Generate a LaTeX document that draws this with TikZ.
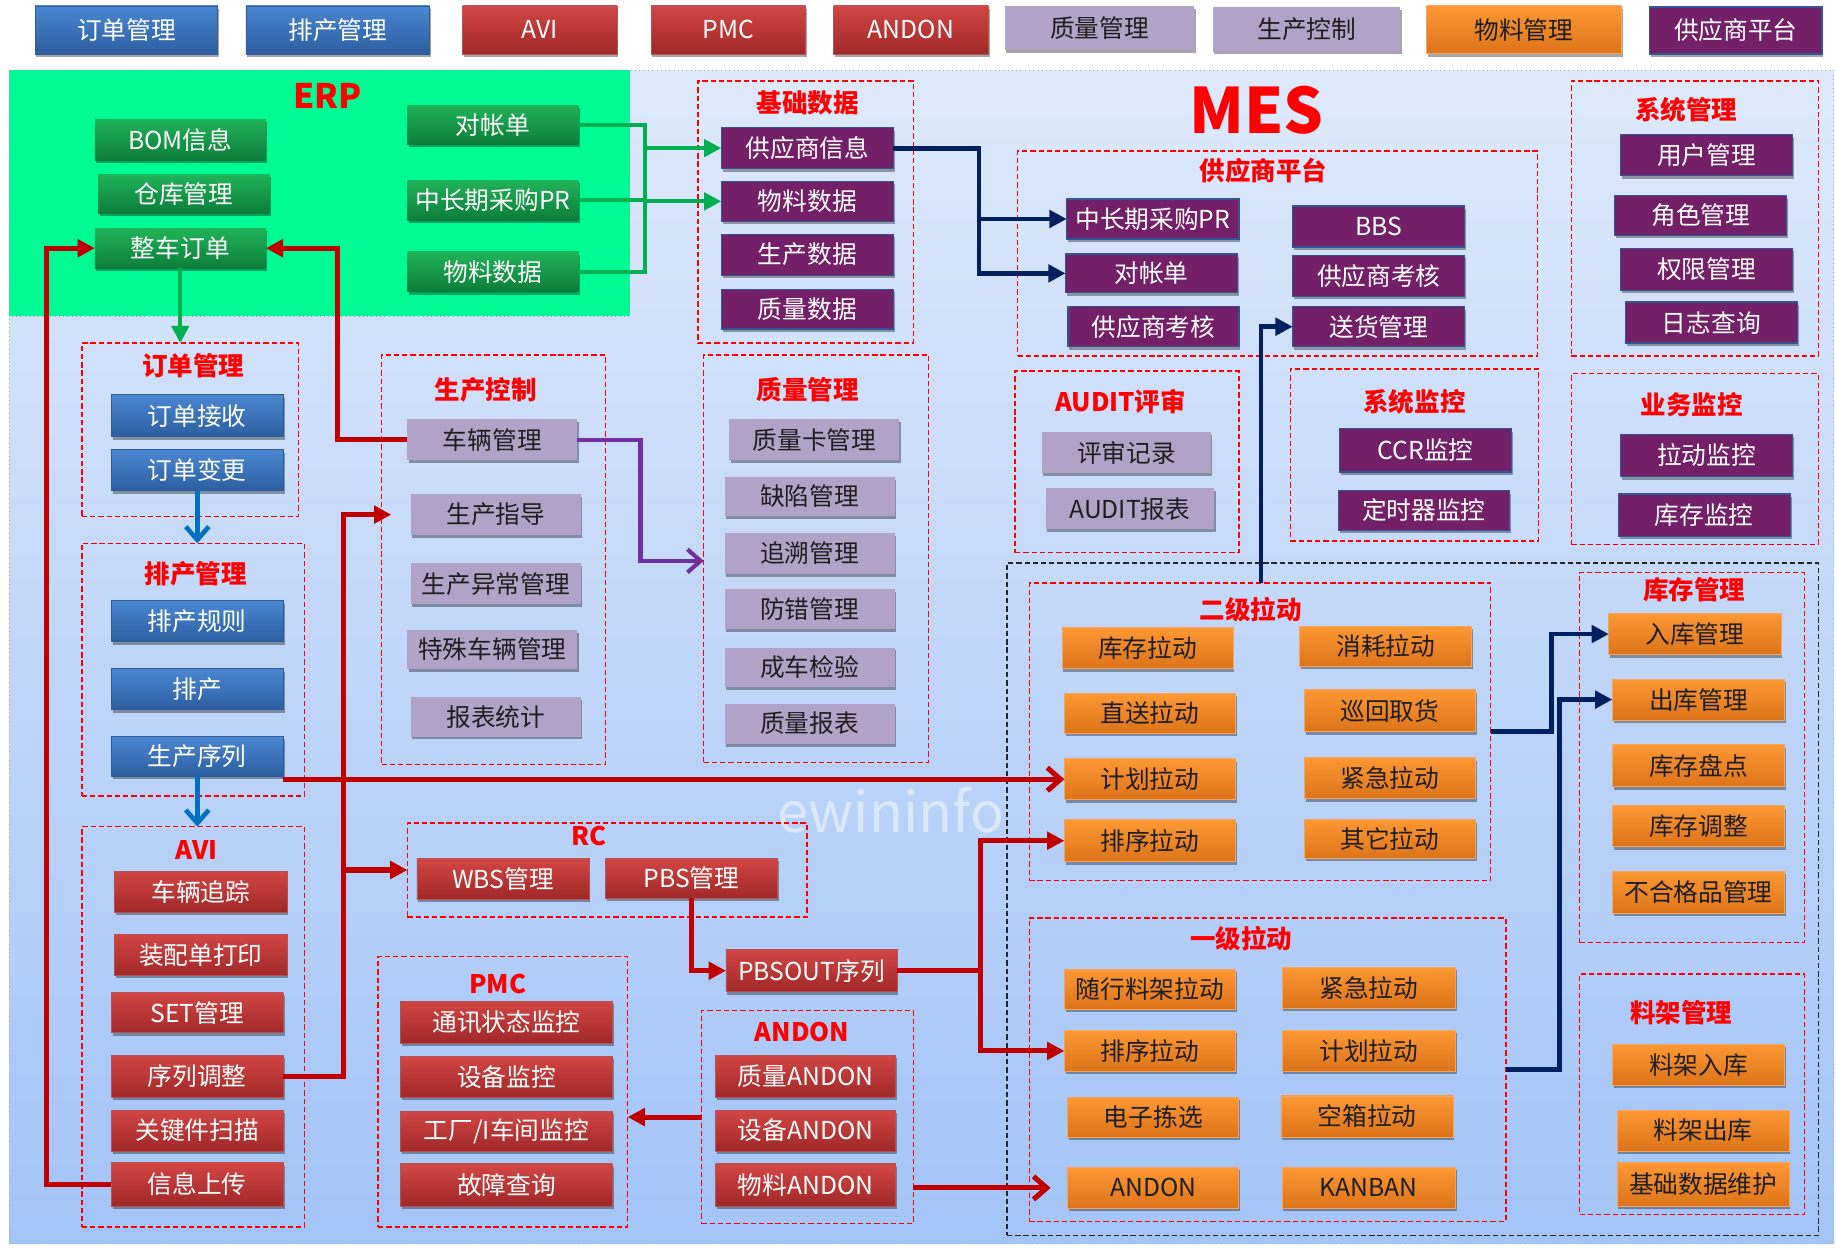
\documentclass[tikz,border=0pt]{standalone}
\usepackage{fontspec}
\setmainfont{Noto Sans CJK SC}
\usetikzlibrary{arrows.meta,shadows}
\definecolor{bgtop}{RGB}{222,233,251}
\definecolor{bgbot}{RGB}{163,196,247}
\definecolor{erpgreen}{RGB}{0,250,148}
\definecolor{bluetop}{RGB}{74,135,210}
\definecolor{bluebot}{RGB}{44,94,160}
\definecolor{blueedge}{RGB}{50,90,150}
\definecolor{redtop}{RGB}{210,70,68}
\definecolor{redbot}{RGB}{160,40,40}
\definecolor{lav}{RGB}{179,162,199}
\definecolor{purp}{RGB}{116,32,104}
\definecolor{puredge}{RGB}{50,85,150}
\definecolor{grtop}{RGB}{32,179,88}
\definecolor{grbot}{RGB}{12,125,58}
\definecolor{ortop}{RGB}{253,152,52}
\definecolor{orbot}{RGB}{220,115,25}
\definecolor{oredge}{RGB}{245,165,95}
\definecolor{lnred}{RGB}{192,0,0}
\definecolor{lnnavy}{RGB}{0,32,96}
\definecolor{lngreen}{RGB}{0,176,80}
\definecolor{lnpurple}{RGB}{112,48,160}
\definecolor{lnblue}{RGB}{0,112,192}
\definecolor{darktxt}{RGB}{30,30,30}
\newcommand\mkbox[7]{\node[#6, minimum width={(#4-#2)*0.025cm}, minimum height={(#5-#3)*0.025cm}] (#1) at ({(#2+#4)/2},{(#3+#5)/2}) {#7};}
\begin{document}
\begin{tikzpicture}[x=0.025cm,y=-0.025cm,
  bxbase/.style={inner sep=0pt, outer sep=0pt, font=\fontsize{15}{16}\selectfont,
    drop shadow={shadow xshift=0.8pt, shadow yshift=-1.8pt, opacity=0.35, fill=black}},
  bluebx/.style={bxbase, top color=bluetop, bottom color=bluebot, draw=blueedge, line width=0.4pt, text=white},
  redbx/.style={bxbase, top color=redtop, bottom color=redbot, draw=redbot!80!white, line width=0.4pt, text=white},
  lavbx/.style={bxbase, fill=lav, text=darktxt},
  purbx/.style={bxbase, fill=purp, draw=puredge, line width=0.8pt, text=white},
  grbx/.style={bxbase, top color=grtop, bottom color=grbot, text=white},
  orbx/.style={bxbase, top color=ortop, bottom color=orbot, draw=oredge, line width=0.5pt, text=darktxt},
  grp/.style={draw=red, line width=0.9pt, dash pattern=on 3.2pt off 1.8pt, inner sep=0pt, outer sep=0pt},
  ttl/.style={text=red, font=\bfseries\fontsize{15.5}{17}\selectfont, inner sep=0pt},
  farrow/.style={-{Triangle[length=10.5pt,width=10.5pt]}},
  oarrow/.style={-{Straight Barb[length=8pt,width=14pt]}},
  rdl/.style={draw=lnred, line width=3.1pt},
  nvl/.style={draw=lnnavy, line width=2.9pt},
  gnl/.style={draw=lngreen, line width=2.5pt},
  ppl/.style={draw=lnpurple, line width=2.5pt},
  bll/.style={draw=lnblue, line width=2.8pt}
]
\useasboundingbox (0,0) rectangle (1568,1065);
\fill[white] (0,0) rectangle (1568,1065);
% main background
\shade[top color=bgtop, bottom color=bgbot] (8,60) rectangle (1566,1062);
\draw[color=blueedge!50!white, line width=0.6pt, dotted] (8,60) rectangle (1566,1062);
% ERP area
\fill[erpgreen] (8,60) rectangle (538,270);
\draw[gray!70, line width=0.6pt, dotted] (8,60) rectangle (538,270);
\node[text=red, font=\bfseries\fontsize{20.5}{22}\selectfont, inner sep=0pt] (erpT) at (280,82) {ERP};
\node[text=red, font=\bfseries\fontsize{38}{40}\selectfont, inner sep=0pt] (mesT) at (1073,94) {MES};
% watermark
\node[text=white, opacity=0.5, font=\fontsize{34}{36}\selectfont, inner sep=0pt] (wm) at (761,692) {ewininfo};

% top bar
\mkbox{tb1}{30}{5}{186}{46}{bluebx}{订单管理}
\mkbox{tb2}{210}{5}{367}{46}{bluebx}{排产管理}
\mkbox{tb3}{395}{5}{527}{46}{redbx}{AVI}
\mkbox{tb4}{556}{5}{688}{46}{redbx}{PMC}
\mkbox{tb5}{712}{5}{844}{46}{redbx}{ANDON}
\mkbox{tb6}{858}{5}{1020}{43}{lavbx}{质量管理}
\mkbox{tb7}{1036}{6}{1196}{44}{lavbx}{生产控制}
\mkbox{tb8}{1218}{5}{1385}{46}{orbx}{物料管理}
\mkbox{tb9}{1409}{6}{1556}{46}{purbx}{供应商平台}

% ERP boxes
\mkbox{eBOM}{81}{102}{227}{137}{grbx}{BOM信息}
\mkbox{eCK}{84}{149}{230}{182}{grbx}{仓库管理}
\mkbox{zcdd}{81}{195}{227}{229}{grbx}{整车订单}
\mkbox{eDZ}{348}{90}{494}{123}{grbx}{对帐单}
\mkbox{ePR}{348}{154}{494}{188}{grbx}{中长期采购PR}
\mkbox{eWL}{348}{215}{494}{249}{grbx}{物料数据}

% groups
\mkbox{jcG}{596}{69}{780}{293}{grp}{}
\mkbox{gysG}{869}{129}{1313}{304}{grp}{}
\mkbox{xtG}{1342}{69}{1553}{304}{grp}{}
\mkbox{auG}{867}{317}{1058}{472}{grp}{}
\mkbox{smG}{1102}{315}{1314}{462}{grp}{}
\mkbox{ywG}{1342}{319}{1553}{465}{grp}{}
\mkbox{ddG}{70}{293}{255}{441}{grp}{}
\mkbox{pcG}{70}{464}{260}{680}{grp}{}
\mkbox{aviG}{70}{706}{260}{1048}{grp}{}
\mkbox{sckG}{326}{303}{517}{653}{grp}{}
\mkbox{zlG}{601}{303}{793}{651}{grp}{}
\mkbox{rcG}{348}{703}{689}{783}{grp}{}
\mkbox{pmcG}{323}{817}{536}{1048}{grp}{}
\mkbox{anG}{599}{863}{780}{1045}{grp}{}
\mkbox{bkG}{860}{481}{1553}{1055}{draw=black!85, line width=0.9pt, dash pattern=on 3.2pt off 1.8pt, inner sep=0pt}{}
\mkbox{g2}{879}{498}{1273}{752}{grp}{}
\mkbox{g1}{879}{784}{1286}{1043}{grp}{}
\mkbox{kcG}{1349}{489}{1541}{805}{grp}{}
\mkbox{ljG}{1349}{832}{1541}{1037}{grp}{}

% titles
\node[ttl] (t1) at (690,88) {基础数据};
\node[ttl] (t2) at (1079,146) {供应商平台};
\node[ttl] (t3) at (1440,94) {系统管理};
\node[ttl] (t4) at (957,343) {AUDIT评审};
\node[ttl] (t5) at (1208,343) {系统监控};
\node[ttl] (t6) at (1445,346) {业务监控};
\node[ttl] (t7) at (165,312) {订单管理};
\node[ttl] (t8) at (167,490) {排产管理};
\node[ttl] (t9) at (168,726) {AVI};
\node[ttl] (t10) at (415,333) {生产控制};
\node[ttl] (t11) at (690,333) {质量管理};
\node[ttl] (t12) at (503,714) {RC};
\node[ttl] (t13) at (425,840) {PMC};
\node[ttl] (t14) at (685,881) {ANDON};
\node[ttl] (t15) at (1068,521) {二级拉动};
\node[ttl] (t16) at (1060,802) {一级拉动};
\node[ttl] (t17) at (1447,504) {库存管理};
\node[ttl] (t18) at (1436,865) {料架管理};

% 基础数据
\mkbox{jSup}{616}{109}{763}{144}{purbx}{供应商信息}
\mkbox{jWL}{616}{155}{763}{189}{purbx}{物料数据}
\mkbox{jSC}{616}{200}{763}{235}{purbx}{生产数据}
\mkbox{jZL}{616}{247}{763}{281}{purbx}{质量数据}
% 供应商平台
\mkbox{pPR}{911}{170}{1058}{204}{purbx}{中长期采购PR}
\mkbox{pDZ}{910}{217}{1057}{250}{purbx}{对帐单}
\mkbox{pKH}{912}{262}{1058}{296}{purbx}{供应商考核}
\mkbox{pBBS}{1104}{176}{1251}{211}{purbx}{BBS}
\mkbox{pKH2}{1104}{218}{1251}{253}{purbx}{供应商考核}
\mkbox{pSH}{1104}{262}{1251}{296}{purbx}{送货管理}
% 系统管理
\mkbox{xt1}{1384}{115}{1531}{150}{purbx}{用户管理}
\mkbox{xt2}{1379}{167}{1526}{201}{purbx}{角色管理}
\mkbox{xt3}{1384}{212}{1531}{248}{purbx}{权限管理}
\mkbox{xt4}{1388}{258}{1535}{293}{purbx}{日志查询}
% AUDIT
\mkbox{au1}{890}{369}{1034}{404}{lavbx}{评审记录}
\mkbox{au2}{893}{417}{1037}{452}{lavbx}{AUDIT报表}
% 系统监控
\mkbox{sm1}{1144}{366}{1291}{403}{purbx}{CCR监控}
\mkbox{sm2}{1143}{419}{1289}{453}{purbx}{定时器监控}
% 业务监控
\mkbox{yw1}{1384}{371}{1531}{407}{purbx}{拉动监控}
\mkbox{yw2}{1382}{422}{1529}{458}{purbx}{库存监控}
% 订单管理
\mkbox{ddjs}{95}{337}{242}{373}{bluebx}{订单接收}
\mkbox{ddbg}{95}{384}{242}{419}{bluebx}{订单变更}
% 排产管理
\mkbox{pcgz}{95}{513}{242}{548}{bluebx}{排产规则}
\mkbox{pc}{95}{571}{242}{606}{bluebx}{排产}
\mkbox{scxl}{95}{629}{242}{663}{bluebx}{生产序列}
% AVI
\mkbox{clzz}{98}{744}{245}{779}{redbx}{车辆追踪}
\mkbox{zpd}{98}{798}{245}{833}{redbx}{装配单打印}
\mkbox{set}{95}{848}{242}{882}{redbx}{SET管理}
\mkbox{xltz}{95}{901}{242}{937}{redbx}{序列调整}
\mkbox{gjj}{95}{948}{242}{983}{redbx}{关键件扫描}
\mkbox{xxsc}{95}{993}{242}{1030}{redbx}{信息上传}
% 生产控制
\mkbox{clgl}{348}{358}{493}{393}{lavbx}{车辆管理}
\mkbox{sczd}{351}{422}{496}{457}{lavbx}{生产指导}
\mkbox{scyc}{351}{481}{496}{516}{lavbx}{生产异常管理}
\mkbox{tscl}{348}{538}{493}{571}{lavbx}{特殊车辆管理}
\mkbox{bbtj}{351}{595}{496}{629}{lavbx}{报表统计}
% 质量管理
\mkbox{zl1}{623}{358}{768}{393}{lavbx}{质量卡管理}
\mkbox{zl2}{619}{407}{764}{441}{lavbx}{缺陷管理}
\mkbox{zl3}{619}{455}{764}{490}{lavbx}{追溯管理}
\mkbox{zl4}{619}{503}{764}{537}{lavbx}{防错管理}
\mkbox{zl5}{619}{553}{764}{587}{lavbx}{成车检验}
\mkbox{zl6}{619}{601}{764}{635}{lavbx}{质量报表}
% RC
\mkbox{wbs}{356}{733}{503}{768}{redbx}{WBS管理}
\mkbox{pbs}{517}{733}{664}{767}{redbx}{PBS管理}
\mkbox{pbsout}{620}{811}{766}{847}{redbx}{PBSOUT序列}
% PMC
\mkbox{pm1}{342}{855}{523}{891}{redbx}{通讯状态监控}
\mkbox{pm2}{342}{902}{523}{937}{redbx}{设备监控}
\mkbox{pm3}{342}{949}{523}{983}{redbx}{工厂/I车间监控}
\mkbox{pm4}{342}{994}{523}{1030}{redbx}{故障查询}
% ANDON
\mkbox{an1}{611}{901}{765}{937}{redbx}{质量ANDON}
\mkbox{an2}{611}{948}{765}{983}{redbx}{设备ANDON}
\mkbox{an3}{611}{994}{765}{1030}{redbx}{物料ANDON}
% 二级拉动
\mkbox{b1}{907}{536}{1053}{571}{orbx}{库存拉动}
\mkbox{b2}{1110}{535}{1257}{569}{orbx}{消耗拉动}
\mkbox{b3}{909}{592}{1055}{626}{orbx}{直送拉动}
\mkbox{b4}{1114}{589}{1260}{625}{orbx}{巡回取货}
\mkbox{jh}{909}{648}{1055}{683}{orbx}{计划拉动}
\mkbox{b6}{1114}{647}{1260}{682}{orbx}{紧急拉动}
\mkbox{px2}{909}{700}{1055}{736}{orbx}{排序拉动}
\mkbox{b8}{1114}{700}{1260}{733}{orbx}{其它拉动}
% 一级拉动
\mkbox{c1}{909}{828}{1055}{862}{orbx}{随行料架拉动}
\mkbox{c2}{1095}{826}{1243}{861}{orbx}{紧急拉动}
\mkbox{px1}{909}{880}{1055}{915}{orbx}{排序拉动}
\mkbox{c4}{1095}{880}{1243}{915}{orbx}{计划拉动}
\mkbox{c5}{912}{937}{1058}{971}{orbx}{电子拣选}
\mkbox{c6}{1094}{936}{1241}{971}{orbx}{空箱拉动}
\mkbox{a1}{912}{997}{1058}{1032}{orbx}{ANDON}
\mkbox{c8}{1095}{997}{1243}{1032}{orbx}{KANBAN}
% 库存管理
\mkbox{rk}{1374}{524}{1521}{559}{orbx}{入库管理}
\mkbox{ck}{1377}{580}{1524}{615}{orbx}{出库管理}
\mkbox{k3}{1377}{636}{1524}{672}{orbx}{库存盘点}
\mkbox{k4}{1377}{688}{1524}{723}{orbx}{库存调整}
\mkbox{k5}{1377}{744}{1524}{780}{orbx}{不合格品管理}
% 料架管理
\mkbox{l1}{1377}{892}{1524}{927}{orbx}{料架入库}
\mkbox{l2}{1381}{948}{1528}{983}{orbx}{料架出库}
\mkbox{l3}{1381}{993}{1528}{1030}{orbx}{基础数据维护}

% junction coordinates
\coordinate (gj) at (551,0);
\coordinate (nj) at (836,0);
\coordinate (nx) at (1077,0);
\coordinate (k1j) at (1325,0);
\coordinate (k2j) at (1332,0);
\coordinate (rl) at (40,0);
\coordinate (rm) at (288,0);
\coordinate (rv) at (293,0);
\coordinate (bj) at (837,0);
\coordinate (pj) at (547,479);

% green connectors
\draw[gnl] (eDZ.east) -- (eDZ.east -| gj) -- (eWL.east -| gj) -- (eWL.east);
\draw[gnl] (ePR.east) -- (ePR.east -| gj);
\draw[gnl,farrow] (gj |- jSup.west) -- (jSup.west);
\draw[gnl,farrow] (gj |- jWL.west) -- (jWL.west);
\draw[gnl,farrow] (zcdd.south) -- (zcdd.south |- ddG.north);
% navy connectors
\draw[nvl,farrow] (jSup.east) -- (jSup.east -| nj) |- (pPR.west);
\draw[nvl,farrow] (nj |- pPR.west) |- (pDZ.west);
\draw[nvl,farrow] (nx |- g2.north) |- (pSH.west);
\draw[nvl,farrow] (g2.east) -- (g2.east -| k1j) |- (rk.west);
\draw[nvl,farrow] (g1.east) -- (g1.east -| k2j) |- (ck.west);
% blue connectors
\draw[bll,oarrow] (ddbg.south) -- (ddbg.south |- pcG.north);
\draw[bll,oarrow] (scxl.south) -- (scxl.south |- aviG.north);
% purple connector
\draw[ppl,oarrow] (clgl.east) -| (pj) -- (pj -| zlG.west);
% red connectors
\draw[rdl,farrow] (xxsc.west) -- (xxsc.west -| rl) |- (zcdd.west);
\draw[rdl,farrow] (clgl.west) -- (clgl.west -| rm) |- (zcdd.east);
\draw[rdl,farrow,shorten >=0.42cm] (xltz.east) -- (xltz.east -| rv) |- (sczd.west);
\draw[rdl,farrow] (rv |- rcG.west) -- (rcG.west);
\draw[rdl,oarrow] (jh.west -| scxl.east) -- (jh.west);
\draw[rdl,farrow] (pbs.south) |- (pbsout.west);
\draw[rdl,farrow] (pbsout.east) -- (pbsout.east -| bj) |- (px2.west);
\draw[rdl,farrow] (bj |- pbsout.east) |- (px1.west);
\draw[rdl,farrow] (anG.west) -- (anG.west -| pmcG.east);
\draw[rdl,oarrow,shorten >=0.37cm] (anG.east |- a1.west) -- (a1.west);
\end{tikzpicture}
\end{document}
